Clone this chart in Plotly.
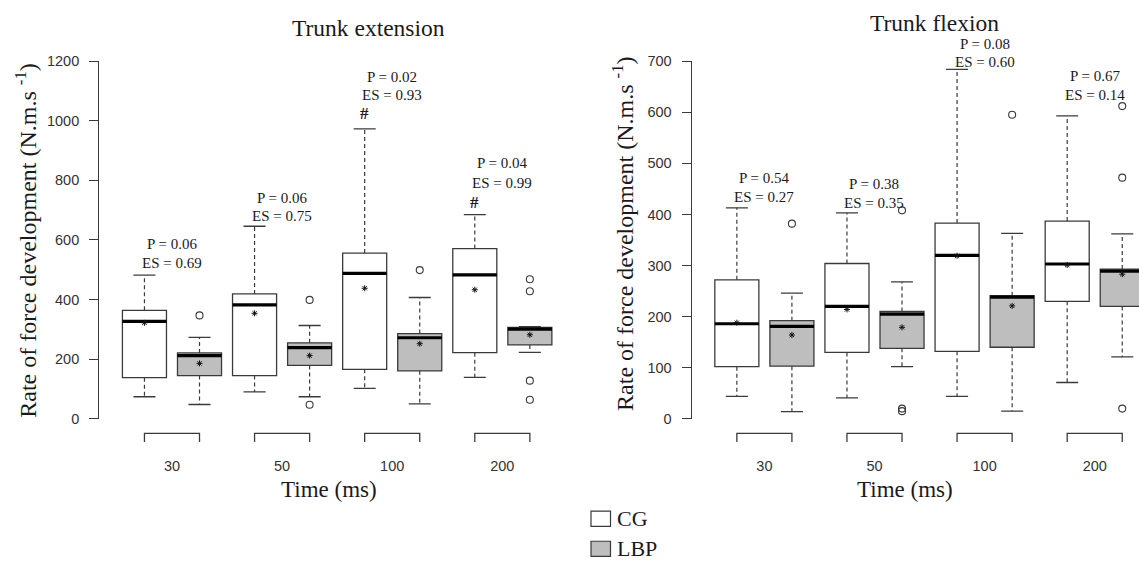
import plotly.graph_objects as go

W, H = 1139, 568

# ---------------- data ----------------
times = ["30", "50", "100", "200"]

# Trunk extension
ext_cg_lo = [74, 90, 102, 139]
ext_cg_q1 = [138, 145, 166, 222]
ext_cg_med = [327, 382, 488, 483]
ext_cg_q3 = [364, 419, 556, 571]
ext_cg_hi = [482, 646, 973, 685]
ext_cg_mean = [322, 354, 438, 433]
ext_cg_out = [[], [], [], []]

ext_lbp_lo = [48, 74, 50, 223]
ext_lbp_q1 = [145, 179, 161, 248]
ext_lbp_med = [212, 239, 272, 301]
ext_lbp_q3 = [221, 255, 286, 307]
ext_lbp_hi = [273, 313, 407, 309]
ext_lbp_mean = [186, 212, 252, 282]
ext_lbp_out = [[347], [399, 47], [499], [468, 428, 128, 64]]

ext_p = ["P = 0.06", "P = 0.06", "P = 0.02", "P = 0.04"]
ext_es = ["ES = 0.69", "ES = 0.75", "ES = 0.93", "ES = 0.99"]
ext_sig = ["", "", "#", "#"]

# Trunk flexion
flx_cg_lo = [44, 41, 44, 71]
flx_cg_q1 = [102, 130, 132, 230]
flx_cg_med = [186, 220, 320, 303]
flx_cg_q3 = [272, 304, 383, 387]
flx_cg_hi = [413, 403, 684, 593]
flx_cg_mean = [188, 214, 319, 301]
flx_cg_out = [[], [], [], []]

flx_lbp_lo = [14, 102, 15, 121]
flx_lbp_q1 = [103, 138, 140, 220]
flx_lbp_med = [181, 205, 238, 289]
flx_lbp_q3 = [192, 210, 241, 293]
flx_lbp_hi = [246, 268, 363, 362]
flx_lbp_mean = [164, 179, 221, 283]
flx_lbp_out = [[382], [408, 20, 15], [595], [612, 472, 20]]

flx_p = ["P = 0.54", "P = 0.38", "P = 0.08", "P = 0.67"]
flx_es = ["ES = 0.27", "ES = 0.35", "ES = 0.60", "ES = 0.14"]
flx_sig = ["", "", "", ""]

groups = ["CG", "LBP"]

# ---------------- layout constants (label heights, in axis units) ----------------
ext_p_y = [586, 742, 1147, 857]
ext_es_y = [522, 680, 1085, 791]
ext_sig_y = [0, 0, 1023, 726]
flx_p_y = [472, 460, 733, 671]
flx_es_y = [434, 422, 699, 633]
flx_sig_y = [0, 0, 0, 0]

SERIF = "Liberation Serif"
SANS = "Liberation Sans"
LINE = "#3a3a3a"
TXT = "#1a1a1a"


def px_x(p):
    return p / W


def px_y(p):
    return 1 - p / H


fig = go.Figure()


def add_panel(xa, ya, xb, yb, ymax, cg, lbp, ptxt, estxt, sig, p_y, es_y, sig_y):
    n = len(times)
    pos_cg = [2 * i + 1 for i in range(n)]
    pos_lbp = [2 * i + 2 for i in range(n)]
    for pos, st in ((pos_cg, cg), (pos_lbp, lbp)):
        lo, q1, med, q3, hi, mean, outs = st
        wx, wy = [], []
        for i, p in enumerate(pos):
            wx += [p, p, None, p, p, None]
            wy += [q3[i], hi[i], None, q1[i], lo[i], None]
        fig.add_trace(go.Scatter(x=wx, y=wy, mode="lines", xaxis=xa, yaxis=ya,
                                 line=dict(color=LINE, width=1.2, dash="4px,3px"),
                                 hoverinfo="skip"))
        cx, cy = [], []
        for i, p in enumerate(pos):
            cx += [p - 0.2, p + 0.2, None, p - 0.2, p + 0.2, None]
            cy += [hi[i], hi[i], None, lo[i], lo[i], None]
        fig.add_trace(go.Scatter(x=cx, y=cy, mode="lines", xaxis=xa, yaxis=ya,
                                 line=dict(color=LINE, width=1.3), hoverinfo="skip"))
    for pos, st, fill in ((pos_cg, cg, "white"), (pos_lbp, lbp, "#bebebe")):
        lo, q1, med, q3, hi, mean, outs = st
        fig.add_trace(go.Box(x=pos, q1=q1, median=med, q3=q3,
                             lowerfence=q1, upperfence=q3,
                             width=0.8, whiskerwidth=0, boxpoints=False,
                             fillcolor=fill, line=dict(color=LINE, width=1.3),
                             xaxis=xa, yaxis=ya, hoverinfo="skip"))
        mx, my = [], []
        for i, p in enumerate(pos):
            mx += [p - 0.4, p + 0.4, None]
            my += [med[i], med[i], None]
        fig.add_trace(go.Scatter(x=mx, y=my, mode="lines", xaxis=xa, yaxis=ya,
                                 line=dict(color="black", width=3.2), hoverinfo="skip"))
        fig.add_trace(go.Scatter(x=pos, y=mean, mode="markers", xaxis=xa, yaxis=ya,
                                 marker=dict(symbol="asterisk-open", size=5, color="#111",
                                             line=dict(color="#111", width=1.0)),
                                 hoverinfo="skip"))
        ox, oy = [], []
        for i, p in enumerate(pos):
            for v in outs[i]:
                ox.append(p)
                oy.append(v)
        if ox:
            fig.add_trace(go.Scatter(x=ox, y=oy, mode="markers", xaxis=xa, yaxis=ya,
                                     cliponaxis=False,
                                     marker=dict(symbol="circle-open", size=7, color=LINE,
                                                 line=dict(color=LINE, width=1.1)),
                                     hoverinfo="skip"))
    # brackets under each pair
    bx, by = [], []
    for i in range(n):
        bx += [pos_cg[i], pos_cg[i], pos_lbp[i], pos_lbp[i], None]
        by += [13.3, 22.3, 22.3, 13.3, None]
    fig.add_trace(go.Scatter(x=bx, y=by, mode="lines", xaxis=xb, yaxis=yb,
                             line=dict(color=LINE, width=1.3), hoverinfo="skip"))
    # P / ES / # labels (y given on the axis scale, placed via the axis domain)
    xref = xa
    yref = ya + " domain"
    for i in range(n):
        mid = (pos_cg[i] + pos_lbp[i]) / 2
        fig.add_annotation(x=mid, y=p_y[i] / ymax, xref=xref, yref=yref, text=ptxt[i],
                           showarrow=False, xanchor="center", yanchor="middle", borderpad=0,
                           font=dict(family=SERIF, size=15, color=TXT))
        fig.add_annotation(x=mid, y=es_y[i] / ymax, xref=xref, yref=yref, text=estxt[i],
                           showarrow=False, xanchor="center", yanchor="middle", borderpad=0,
                           font=dict(family=SERIF, size=15, color=TXT))
        if sig[i]:
            fig.add_annotation(x=pos_cg[i], y=sig_y[i] / ymax, xref=xref, yref=yref,
                               text="<b>" + sig[i] + "</b>",
                               showarrow=False, xanchor="center", yanchor="middle",
                               font=dict(family=SERIF, size=17, color=TXT))


EXT_MAX, FLX_MAX = 1200, 700

add_panel("x", "y", "x3", "y3", EXT_MAX,
          (ext_cg_lo, ext_cg_q1, ext_cg_med, ext_cg_q3, ext_cg_hi, ext_cg_mean, ext_cg_out),
          (ext_lbp_lo, ext_lbp_q1, ext_lbp_med, ext_lbp_q3, ext_lbp_hi, ext_lbp_mean, ext_lbp_out),
          ext_p, ext_es, ext_sig, ext_p_y, ext_es_y, ext_sig_y)
add_panel("x2", "y2", "x4", "y4", FLX_MAX,
          (flx_cg_lo, flx_cg_q1, flx_cg_med, flx_cg_q3, flx_cg_hi, flx_cg_mean, flx_cg_out),
          (flx_lbp_lo, flx_lbp_q1, flx_lbp_med, flx_lbp_q3, flx_lbp_hi, flx_lbp_mean, flx_lbp_out),
          flx_p, flx_es, flx_sig, flx_p_y, flx_es_y, flx_sig_y)

# ---------------- axes ----------------
left_dom = [px_x(99.3), px_x(575)]
right_dom = [px_x(691.7), 1.0]
y_dom = [px_y(422.7), px_y(54.7)]
yb_dom = [px_y(460), px_y(432)]
unit = (575 - 99.3) / 8.64
right_range = [0.18, 0.18 + (W - 691.7) / unit]

yax_common = dict(domain=y_dom, showline=True, linecolor=LINE, linewidth=1.3,
                  ticks="outside", ticklen=9, tickwidth=1.3, tickcolor=LINE,
                  showgrid=False, zeroline=False, ticklabelstandoff=7,
                  tickfont=dict(family=SANS, size=14.5, color="#333"))
xb_common = dict(showline=False, ticks="", showgrid=False, zeroline=False,
                 tickvals=[1.5, 3.5, 5.5, 7.5], ticktext=times,
                 tickfont=dict(family=SANS, size=14.5, color="#333"))

fig.update_layout(
    width=W, height=H, margin=dict(l=0, r=0, t=0, b=0),
    paper_bgcolor="white", plot_bgcolor="rgba(0,0,0,0)",
    showlegend=False, boxmode="overlay",
    xaxis=dict(domain=left_dom, range=[0.18, 8.82], visible=False, anchor="y"),
    yaxis=dict(range=[0, EXT_MAX], tickvals=list(range(0, EXT_MAX + 1, 200)), anchor="x", **yax_common),
    xaxis2=dict(domain=right_dom, range=right_range, visible=False, anchor="y2"),
    yaxis2=dict(range=[0, FLX_MAX], tickvals=list(range(0, FLX_MAX + 1, 100)), anchor="x2", **yax_common),
    xaxis3=dict(domain=left_dom, range=[0.18, 8.82], anchor="y3", **xb_common),
    yaxis3=dict(domain=yb_dom, range=[0, 28], visible=False, anchor="x3"),
    xaxis4=dict(domain=right_dom, range=right_range, anchor="y4", **xb_common),
    yaxis4=dict(domain=yb_dom, range=[0, 28], visible=False, anchor="x4"),
)


def paper_text(x, y, text, size, angle=0, xanchor="center"):
    fig.add_annotation(x=px_x(x), y=px_y(y), xref="paper", yref="paper", text=text,
                       showarrow=False, xanchor=xanchor, yanchor="middle", textangle=angle,
                       borderpad=0, font=dict(family=SERIF, size=size, color=TXT))


paper_text(368.7, 21, "Trunk extension", 23.5)
paper_text(934, 15, "Trunk flexion", 23.5)
paper_text(329, 495, "Time (ms)", 23)
paper_text(905, 495, "Time (ms)", 23)
ylab = "Rate of force development (N.m.s <sup>-1</sup>)"
paper_text(26, 239.5, ylab, 24, angle=-90)
paper_text(623, 232.5, ylab, 24, angle=-90)

# ---------------- legend ----------------
legend_fill = ["white", "#bebebe"]
for k, (name, fill) in enumerate(zip(groups, legend_fill)):
    cy = 525.5 + 31 * k
    fig.add_shape(type="rect", xref="paper", yref="paper",
                  x0=px_x(591), x1=px_x(610.5), y0=px_y(cy + 7.8), y1=px_y(cy - 7.8),
                  fillcolor=fill, line=dict(color=LINE, width=1.2))
    paper_text(616, cy, name, 22, xanchor="left")

fig.write_html("out.html")
